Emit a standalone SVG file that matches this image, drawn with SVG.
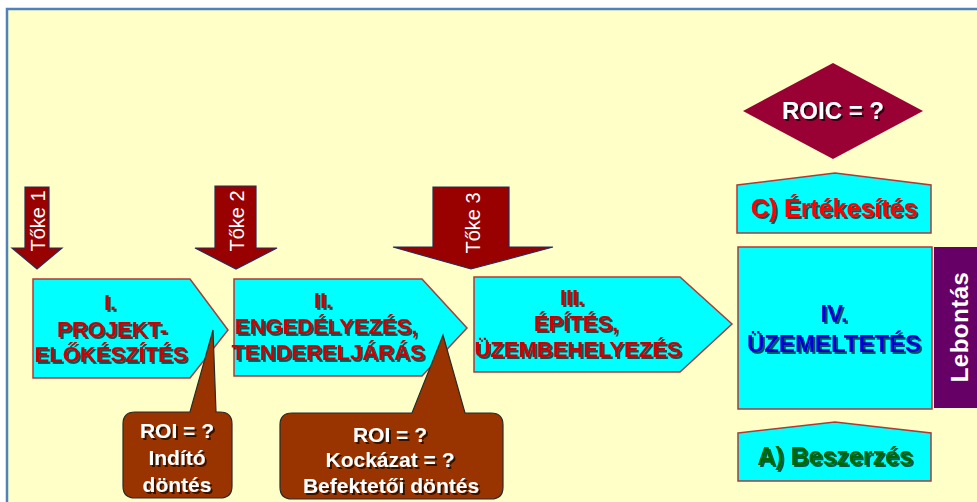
<svg xmlns="http://www.w3.org/2000/svg" width="977" height="502" viewBox="0 0 977 502">
  <defs>
    <filter id="sh" x="-10%" y="-30%" width="130%" height="170%">
      <feDropShadow dx="2" dy="2" stdDeviation="0.6" flood-color="#000000" flood-opacity="0.65"/>
    </filter>
    <style>
      .txt { font-family: "Liberation Sans", Arial, sans-serif; font-weight: bold; text-anchor: middle; }
      .blk { fill: #00FFFF; stroke: #B03A3A; stroke-width: 1.5; }
      .red { fill: #CC0000; font-size: 22px; filter: url(#sh); }
      .arrow { fill: #990000; stroke: #2A2A5A; stroke-width: 1.2; }
      .tk { fill: #FFFFFF; font-size: 20px; font-weight: normal; }
      .call { fill: #993300; stroke: #2A2A2A; stroke-width: 1.2; }
      .wt { fill: #FFFFFF; font-size: 21px; filter: url(#sh); }
    </style>
  </defs>

  <rect x="0" y="0" width="977" height="502" fill="#FFFFFF"/>
  <rect x="7" y="9" width="1000" height="600" fill="#FFFFC8" stroke="#4F81BD" stroke-width="2.5"/>

  <g id="connectors"/>

  <g id="toke1">
    <path class="arrow" d="M25,187 L49,187 L49,248 L62,248 L37,269 L12,248 L25,248 Z"/>
    <text class="txt tk" transform="translate(45,221) rotate(-90)">Tőke 1</text>
  </g>
  <g id="toke2">
    <path class="arrow" d="M215,186 L256,186 L256,248 L277,248 L236,269 L195,248 L215,248 Z"/>
    <text class="txt tk" transform="translate(244,221) rotate(-90)">Tőke 2</text>
  </g>
  <g id="toke3">
    <path class="arrow" d="M433,187 L509,187 L509,247 L553,247 L471,269 L393,247 L433,247 Z"/>
    <text class="txt tk" transform="translate(480,223) rotate(-90)">Tőke 3</text>
  </g>

  <g id="stage1">
    <path class="blk" d="M33,279 L190,279 L228,330 L190,378 L33,378 Z"/>
    <text class="txt red" x="110" y="310">I.</text>
    <text class="txt red" x="112" y="337">PROJEKT-</text>
    <text class="txt red" x="111" y="362">ELŐKÉSZÍTÉS</text>
  </g>
  <g id="stage2">
    <path class="blk" d="M234,279 L422,279 L467,328 L422,376 L234,376 Z"/>
    <text class="txt red" x="323" y="308">II.</text>
    <text class="txt red" x="326" y="334">ENGEDÉLYEZÉS,</text>
    <text class="txt red" x="328" y="360">TENDERELJÁRÁS</text>
  </g>
  <g id="stage3">
    <path class="blk" d="M474,277 L680,277 L732,324 L680,372 L474,372 Z"/>
    <text class="txt red" x="572" y="305">III.</text>
    <text class="txt red" x="576" y="331">ÉPÍTÉS,</text>
    <text class="txt red" x="578" y="357">ÜZEMBEHELYEZÉS</text>
  </g>
  <g id="stage4">
    <rect class="blk" x="738" y="247" width="194" height="162"/>
    <text class="txt" x="834" y="322" font-size="24" fill="#0000CC" filter="url(#sh)">IV.</text>
    <text class="txt" x="834" y="352" font-size="24" fill="#0000CC" filter="url(#sh)">ÜZEMELTETÉS</text>
  </g>
  <g id="lebontas">
    <rect x="934" y="247" width="50" height="161" fill="#660066"/>
    <text class="txt" transform="translate(968,327) rotate(-90)" font-size="24" fill="#FFFFFF" letter-spacing="0.5">Lebontás</text>
  </g>

  <g id="roic">
    <path d="M833,63 L923,111 L833,159 L743,111 Z" fill="#990033"/>
    <text class="txt" x="833" y="119" font-size="24" fill="#FFFFFF" filter="url(#sh)">ROIC = ?</text>
  </g>
  <g id="ertekesites">
    <path class="blk" d="M737,185 L835,173 L931,185 L931,233 L737,233 Z"/>
    <text class="txt" x="834" y="217" font-size="25" fill="#FF0000" filter="url(#sh)">C) Értékesítés</text>
  </g>
  <g id="beszerzes">
    <path class="blk" d="M738,433 L835,422 L931,433 L931,481 L738,481 Z"/>
    <text class="txt" x="835" y="465" font-size="25" fill="#006600" filter="url(#sh)">A) Beszerzés</text>
  </g>

  <g id="callout1">
    <path class="call" d="M135,412 L190,412 L213,330 L216,412 L220,412 Q232,412 232,424 L232,486 Q232,498 220,498 L135,498 Q123,498 123,486 L123,424 Q123,412 135,412 Z"/>
    <text class="txt wt" x="177" y="438">ROI = ?</text>
    <text class="txt wt" x="177" y="465">Indító</text>
    <text class="txt wt" x="177" y="492">döntés</text>
  </g>
  <g id="callout2">
    <path class="call" d="M292,413 L412,413 L443,335 L465,413 L491,413 Q503,413 503,425 L503,487 Q503,499 491,499 L292,499 Q280,499 280,487 L280,425 Q280,413 292,413 Z"/>
    <text class="txt wt" x="390" y="442">ROI = ?</text>
    <text class="txt wt" x="390" y="467">Kockázat = ?</text>
    <text class="txt wt" x="391" y="493">Befektetői döntés</text>
  </g>
</svg>
